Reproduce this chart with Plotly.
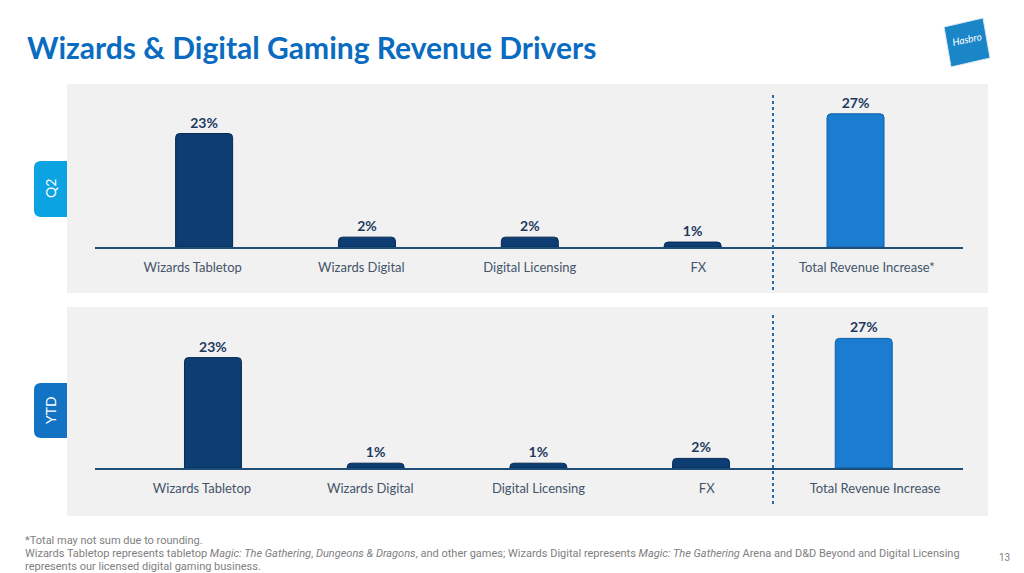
import plotly.graph_objects as go

# data
categories_q2 = ['Wizards Tabletop', 'Wizards Digital', 'Digital Licensing', 'FX', 'Total Revenue Increase*']
categories_ytd = ['Wizards Tabletop', 'Wizards Digital', 'Digital Licensing', 'FX', 'Total Revenue Increase']
q2_values = [23, 2, 2, 1, 27]
ytd_values = [23, 1, 1, 2, 27]

# page has an 8px body margin, so the figure is drawn 8px in from the corner
OFF = 8
W, H = 1024 - OFF, 573 - OFF
FONT = 'Lato'
NAVY = '#0d3d73'
LIGHT = '#1a7dd0'


def px(x):
    return (x - OFF) / W


def py(y):
    return 1 - (y - OFF) / H


def bar_colors(vals):
    return [NAVY] * (len(vals) - 1) + [LIGHT]


def line_colors(vals):
    return ['#062a52'] * (len(vals) - 1) + ['#0f5ea8']


fig = go.Figure()

# bars
for vals, cats, xa, ya in [(q2_values, categories_q2, 'x', 'y'),
                           (ytd_values, categories_ytd, 'x2', 'y2')]:
    fig.add_trace(go.Bar(
        x=cats, y=vals, xaxis=xa, yaxis=ya, width=0.35,
        marker=dict(color=bar_colors(vals), line=dict(color=line_colors(vals), width=1),
                    cornerradius=4),
        text=[f'{v}%' for v in vals], textposition='outside', cliponaxis=False,
        textfont=dict(family=FONT, size=14, color='#1f3a5f', weight='bold'),
        hoverinfo='skip', showlegend=False))

# invisible helper traces so label axes (slightly different spacing) get ticks
fig.add_trace(go.Scatter(x=categories_q2, y=q2_values, xaxis='x3', yaxis='y', mode='markers',
                         marker=dict(opacity=0), hoverinfo='skip', showlegend=False))
fig.add_trace(go.Scatter(x=categories_ytd, y=ytd_values, xaxis='x4', yaxis='y2', mode='markers',
                         marker=dict(opacity=0), hoverinfo='skip', showlegend=False))

dom_x = [px(95), px(963)]
bar_axis = dict(type='category', domain=dom_x, showticklabels=False, showgrid=False, zeroline=False,
                showline=True, linecolor='#1f4e79', linewidth=2, fixedrange=True)
label_axis = dict(type='category', domain=dom_x, showgrid=False, zeroline=False, showline=False,
                  ticks='outside', ticklen=8, tickcolor='rgba(0,0,0,0)',
                  tickfont=dict(family=FONT, size=13, color='#44546a'), fixedrange=True)
y_axis = dict(range=[0, 30], visible=False, fixedrange=True)

fig.update_layout(
    width=W, height=H,
    margin=dict(l=0, r=0, t=0, b=0),
    paper_bgcolor='white', plot_bgcolor='rgba(0,0,0,0)',
    xaxis=dict(bar_axis, anchor='y', range=[-0.67, 4.66]),
    xaxis2=dict(bar_axis, anchor='y2', range=[-0.725, 4.61]),
    xaxis3=dict(label_axis, anchor='y', overlaying='x', range=[-0.58, 4.57]),
    xaxis4=dict(label_axis, anchor='y2', overlaying='x2', range=[-0.636, 4.523]),
    yaxis=dict(y_axis, domain=[py(247), py(99)]),
    yaxis2=dict(y_axis, domain=[py(468), py(324)]),
)

shapes = []
# gray panels
for y0, y1 in [(84, 293), (307, 516)]:
    shapes.append(dict(type='rect', xref='paper', yref='paper', x0=px(67), x1=px(988),
                       y0=py(y1), y1=py(y0), fillcolor='#f1f1f1', line_width=0, layer='below'))


# side tabs with rounded left corners
def tab(y0, y1, color):
    x0, x1, r = 34, 67, 7
    pts = (f'M {px(x1)},{py(y0)} L {px(x0 + r)},{py(y0)} '
           f'Q {px(x0)},{py(y0)} {px(x0)},{py(y0 + r)} '
           f'L {px(x0)},{py(y1 - r)} Q {px(x0)},{py(y1)} {px(x0 + r)},{py(y1)} '
           f'L {px(x1)},{py(y1)} Z')
    return dict(type='path', xref='paper', yref='paper', path=pts, fillcolor=color, line_width=0)


shapes.append(tab(161, 217, '#0ca3e3'))
shapes.append(tab(383, 438, '#1272c4'))

# dotted separators
for y0, y1 in [(93, 290), (315, 504)]:
    shapes.append(dict(type='line', xref='paper', yref='paper', x0=px(773), x1=px(773),
                       y0=py(y1), y1=py(y0), line=dict(color='#2a6aa6', width=2, dash='dot')))

# Hasbro logo (tilted square)
logo = [(944, 27), (983, 18), (990, 58), (951, 67)]
path = 'M ' + ' L '.join(f'{px(a)},{py(b)}' for a, b in logo) + ' Z'
shapes.append(dict(type='path', xref='paper', yref='paper', path=path,
                   fillcolor='#1a86c8', line=dict(color='#d9e8f2', width=1)))
fig.update_layout(shapes=shapes)

foot = dict(family='Roboto', size=11, color='#808080')
annotations = [
    dict(text='<b>Wizards & Digital Gaming Revenue Drivers</b>', x=px(25), y=py(47),
         font=dict(family=FONT, size=30, color='#0a6cc0')),
    dict(text='Q2', x=px(50), y=py(189), textangle=-90, xanchor='center',
         font=dict(family=FONT, size=14, color='white')),
    dict(text='YTD', x=px(50), y=py(410), textangle=-90, xanchor='center',
         font=dict(family=FONT, size=14, color='white')),
    dict(text='<i>Hasbro</i>', x=px(967), y=py(39), textangle=-12, xanchor='center',
         font=dict(family=FONT, size=10, color='white')),
    dict(text='*Total may not sum due to rounding.', x=px(23), y=py(540), font=foot),
    dict(text='Wizards Tabletop represents tabletop <i>Magic: The Gathering</i>, <i>Dungeons & Dragons</i>, '
              'and other games; Wizards Digital represents <i>Magic: The Gathering</i> Arena and D&D Beyond '
              'and Digital Licensing', x=px(23), y=py(553), font=foot),
    dict(text='represents our licensed digital gaming business.', x=px(23), y=py(566), font=foot),
    dict(text='13', x=px(1012), y=py(557), xanchor='right',
         font=dict(family='Roboto', size=10, color='#808080')),
]
for a in annotations:
    a.setdefault('xanchor', 'left')
    a.update(xref='paper', yref='paper', yanchor='middle', showarrow=False)
fig.update_layout(annotations=annotations)

fig.write_html('out.html')
